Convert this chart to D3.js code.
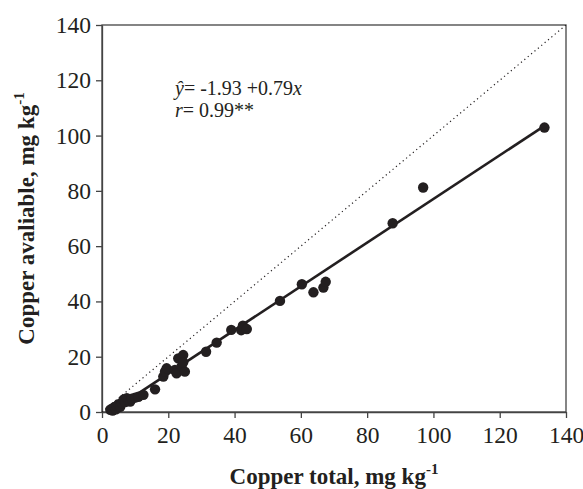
<!DOCTYPE html>
<html>
<head>
<meta charset="utf-8">
<script src="https://cdn.jsdelivr.net/npm/d3@7"></script>
<style>
  body { margin: 0; background: #fff; }
  text { font-family: "Liberation Serif", "Times New Roman", serif; fill: #231f20; }
</style>
</head>
<body>
<div id="chart"></div>
<script>
// values
const copperTotal = [2.5, 3, 3.2, 3.8, 4.2, 4.5, 5, 5.5, 6, 6.5, 7, 7.5, 8, 8.5, 9, 10, 11, 12.5,
	16, 18.5, 19, 19.5, 22, 22.5, 23, 24.5, 24, 25, 24.5, 31.4, 34.6, 39, 42, 42.5, 43.7,
	53.7, 60.3, 63.8, 66.8, 67.5, 87.7, 96.9, 133.5];
const copperAvailable = [0.8, 1.2, 0.5, 1.8, 1.0, 2.2, 2.8, 1.9, 3.2, 4.5, 3.6, 5, 4.2, 3.8, 4.8, 5.2, 5.5, 6.2,
	8.2, 12.8, 14.6, 15.8, 15.2, 14, 19.4, 20.6, 16.5, 14.6, 18, 21.8, 25.1, 29.7, 29.6, 31.2, 30,
	40.2, 46.2, 43.3, 45, 47.1, 68.3, 81.2, 102.9];
const tickValues = [0, 20, 40, 60, 80, 100, 120, 140];
const intercept = -1.93, slope = 0.79;
const fitRange = [2.5, 133.5];
const identityRange = [0, 140];

const margin = {top: 25, right: 17, bottom: 77, left: 102},
	width = 583 - margin.left - margin.right,
	height = 489 - margin.top - margin.bottom,
	ink = '#231f20';

const x = d3.scaleLinear().domain([0, 140]).range([0, width]);
const y = d3.scaleLinear().domain([0, 140]).range([height, 0]);

const svg = d3.select('#chart').append('svg')
	.attr('width', 583)
	.attr('height', 489)
	.append('g')
	.attr('transform', `translate(${margin.left}, ${margin.top})`);

// frame
svg.append('rect')
	.attr('width', width).attr('height', height)
	.attr('fill', 'none').attr('stroke', '#444').attr('stroke-width', 1.3);

// axes
svg.append('g')
	.attr('transform', `translate(0, ${height})`)
	.call(d3.axisBottom(x).tickValues(tickValues).tickSize(6).tickPadding(8).tickSizeOuter(0));
svg.append('g')
	.call(d3.axisLeft(y).tickValues(tickValues).tickSize(6).tickPadding(5).tickSizeOuter(0));
svg.selectAll('.domain, .tick line').attr('stroke', '#444').attr('stroke-width', 1.3);
svg.selectAll('.tick text')
	.style('font-size', '23.5px')
	.style('font-family', '"Liberation Serif", serif')
	.attr('fill', ink);

// 1:1 line
svg.append('line')
	.attr('x1', x(identityRange[0])).attr('y1', y(identityRange[0]))
	.attr('x2', x(identityRange[1])).attr('y2', y(identityRange[1]))
	.attr('stroke', ink).attr('stroke-width', 1.2)
	.attr('stroke-dasharray', '1.2,3.2');

// fitted line
svg.append('line')
	.attr('x1', x(fitRange[0])).attr('y1', y(intercept + slope * fitRange[0]))
	.attr('x2', x(fitRange[1])).attr('y2', y(intercept + slope * fitRange[1]))
	.attr('stroke', ink).attr('stroke-width', 2.6);

// points
svg.append('g')
	.selectAll('circle')
	.data(copperTotal.map((d, i) => [d, copperAvailable[i]]))
	.enter().append('circle')
	.attr('cx', d => x(d[0]))
	.attr('cy', d => y(d[1]))
	.attr('r', 5.2)
	.attr('fill', ink);

// equation
const eq = svg.append('g').attr('transform', `translate(${175 - margin.left}, ${95 - margin.top})`);
const l1 = eq.append('text').attr('x', 0).attr('y', 0).style('font-size', '20px');
l1.append('tspan').style('font-style', 'italic').text('ŷ');
l1.append('tspan').text(`= ${intercept} +${slope}`);
l1.append('tspan').style('font-style', 'italic').text('x');
const l2 = eq.append('text').attr('x', 0).attr('y', 22).style('font-size', '20px');
l2.append('tspan').style('font-style', 'italic').text('r');
l2.append('tspan').text('= 0.99**');

// axis titles
const xt = svg.append('text')
	.attr('x', width / 2).attr('y', height + 72)
	.attr('text-anchor', 'middle')
	.style('font-size', '23px').style('font-weight', 'bold');
xt.append('tspan').text('Copper total, mg kg');
xt.append('tspan').attr('dy', -10).style('font-size', '15px').text('-1');

const yt = svg.append('text')
	.attr('transform', `translate(${34 - margin.left}, ${height / 2}) rotate(-90)`)
	.attr('text-anchor', 'middle')
	.style('font-size', '23px').style('font-weight', 'bold');
yt.append('tspan').text('Copper avaliable, mg kg');
yt.append('tspan').attr('dy', -10).style('font-size', '15px').text('-1');
</script>
</body>
</html>
